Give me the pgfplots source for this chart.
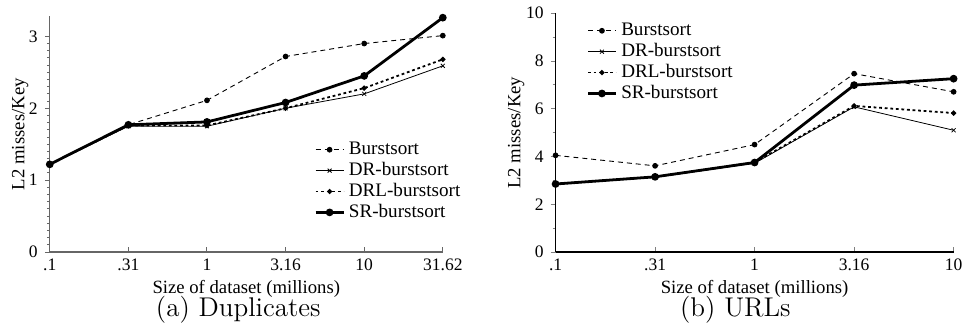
\documentclass[border=0pt]{standalone}
\usepackage{fontspec}
\newfontfamily\timesfont{Liberation Serif}
\usepackage{pgfplots}
\pgfplotsset{compat=1.18}
\pgfplotsset{
  base/.style={
    scale only axis,
    axis x line=bottom, axis y line=left,
    axis line style={-},
    xtick=data,
    xtick align=inside, ytick align=outside,
    major tick length=2.5pt, minor tick length=1.5pt,
    tick style={line width=0.5pt},
    /pgf/number format/assume math mode=true,
    tick label style={font=\timesfont\fontsize{8.8}{10}\selectfont},
    xlabel style={font=\timesfont\fontsize{9.4}{10}\selectfont, inner sep=0pt, at={(axis description cs:0.5,0)}, anchor=north, yshift=-14pt},
    ylabel style={font=\timesfont\fontsize{9.4}{10}\selectfont, inner sep=0pt, anchor=south},
    legend cell align=left,
    legend image code/.code={\draw[mark repeat=2,mark phase=2,##1] plot coordinates {(0pt,0pt) (7pt,0pt) (14pt,0pt)};},
    legend style={draw=none, fill=none, inner sep=0pt, row sep=0pt,
      font=\timesfont\fontsize{9.6}{10}\selectfont,
      nodes={text height=7pt, text depth=2pt, inner ysep=0.75pt, inner xsep=2pt}},
  },
  sBurst/.style={black, line width=0.45pt, dash pattern=on 2.5pt off 2pt, mark=*, mark size=1.2pt, mark options={solid}},
  sDR/.style={black, line width=0.4pt, mark=x, mark size=1.4pt, mark options={solid}},
  sDRL/.style={black, line width=0.9pt, dash pattern=on 1.4pt off 1.4pt, mark=*, mark size=0.8pt, mark options={solid}},
  sSR/.style={black, line width=1.4pt, mark=*, mark size=1.2pt, mark options={solid}},
}
\begin{document}
\begin{tikzpicture}
\path (0,-39.85pt) rectangle (484.5pt,126.65pt);
\begin{axis}[base,
  at={(25pt,0pt)}, anchor=south west,
  width=197.5pt, height=118.5pt,
  xmin=0, xmax=5, ymin=0, ymax=3.28,
  xticklabels={.1,.31,1,3.16,10,31.62},
  ytick={0,1,2,3}, minor y tick num=9,
  axis line style={-, gray!80!black, line width=0.7pt},
  tick style={gray!80!black},
  xlabel={Size of dataset (millions)},
  ylabel={L2 misses/Key},
  ylabel style={at={(axis description cs:-0.053,0.5)}},
  legend style={at={(0.672,0.48)}, anchor=north west},
]
\addplot[sBurst] coordinates {(0,1.22) (1,1.77) (2,2.11) (3,2.72) (4,2.90) (5,3.01)};
\addlegendentry{Burstsort}
\addplot[sDR] coordinates {(0,1.22) (1,1.75) (2,1.75) (3,2.00) (4,2.20) (5,2.59)};
\addlegendentry{DR-burstsort}
\addplot[sDRL] coordinates {(0,1.22) (1,1.76) (2,1.76) (3,2.00) (4,2.28) (5,2.68)};
\addlegendentry{DRL-burstsort}
\addplot[sSR] coordinates {(0,1.22) (1,1.77) (2,1.81) (3,2.08) (4,2.45) (5,3.26)};
\addlegendentry{SR-burstsort}
\end{axis}
\begin{axis}[base,
  at={(279.15pt,0pt)}, anchor=south west,
  width=200pt, height=120pt,
  xmin=0, xmax=4, ymin=0, ymax=10,
  xticklabels={.1,.31,1,3.16,10},
  ytick={0,2,4,6,8,10}, minor y tick num=1,
  axis line style={-, black, line width=0.6pt},
  xlabel={Size of dataset (millions)},
  ylabel={L2 misses/Key},
  ylabel style={at={(axis description cs:-0.0775,0.5)}},
  legend style={at={(0.077,0.972)}, anchor=north west},
]
\addplot[sBurst] coordinates {(0,4.05) (1,3.61) (2,4.50) (3,7.47) (4,6.71)};
\addlegendentry{Burstsort}
\addplot[sDR] coordinates {(0,2.85) (1,3.13) (2,3.72) (3,6.08) (4,5.10)};
\addlegendentry{DR-burstsort}
\addplot[sDRL] coordinates {(0,2.85) (1,3.15) (2,3.75) (3,6.12) (4,5.82)};
\addlegendentry{DRL-burstsort}
\addplot[sSR] coordinates {(0,2.85) (1,3.15) (2,3.75) (3,6.99) (4,7.26)};
\addlegendentry{SR-burstsort}
\end{axis}
\node[anchor=base] at (119.75pt,-32.35pt) {\fontsize{13.6}{16}\selectfont (a) Duplicates};
\node[anchor=base] at (369.5pt,-32.35pt) {\fontsize{13.6}{16}\selectfont (b) URLs};
\end{tikzpicture}
\end{document}
